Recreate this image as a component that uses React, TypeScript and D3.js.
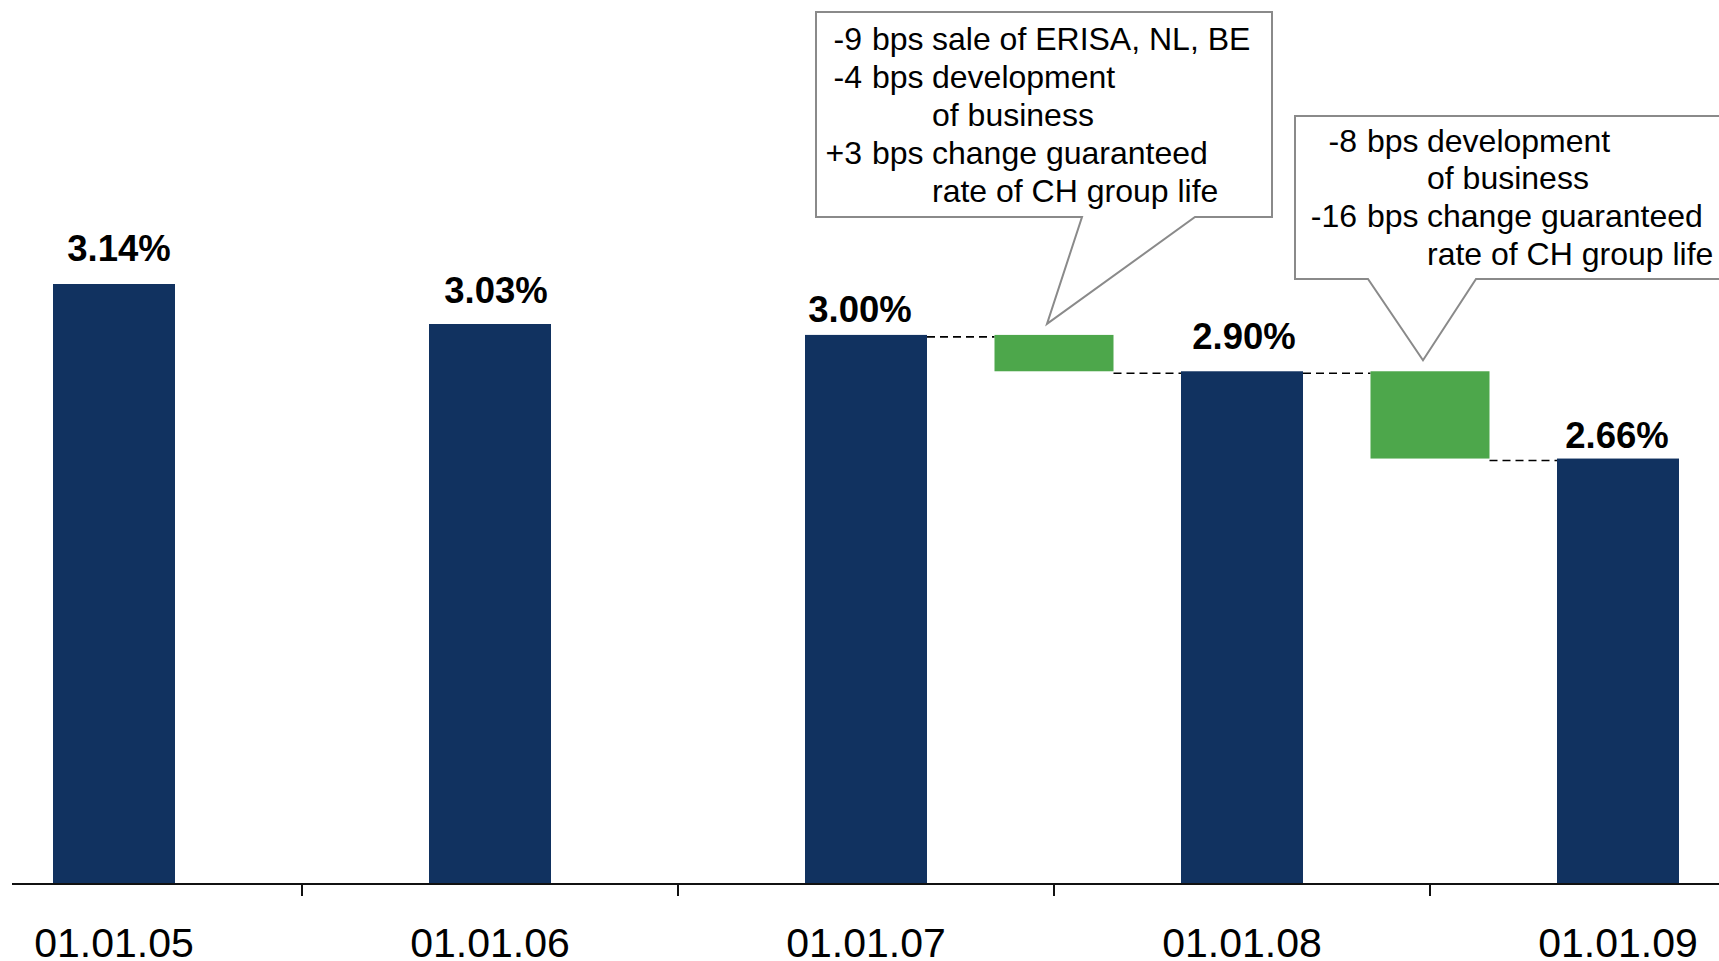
import React from 'react';
import * as d3 from 'd3';

// Average guaranteed rate at each reporting date (%)
const dates = ['01.01.05', '01.01.06', '01.01.07', '01.01.08', '01.01.09'];
const rates = [3.14, 3.03, 3.0, 2.9, 2.66];

// Bridges between consecutive dates: index of the starting date and the drivers (bps)
const bridgeStart = [2, 3];
const bridge1Amounts = ['-9', '-4', '', '+3', ''];
const bridge1Texts = [
  'sale of ERISA, NL, BE',
  'development',
  'of business',
  'change guaranteed',
  'rate of CH group life',
];
const bridge2Amounts = ['-8', '', '-16', ''];
const bridge2Texts = ['development', 'of business', 'change guaranteed', 'rate of CH group life'];

const W = 1719;
const H = 961;
const NAVY = '#113260';
const GREEN = '#4DA74B';
const FONT = '"Liberation Sans", Arial, sans-serif';

// vertical room between each value label and its bar, and small horizontal nudges
const labelLift = [23, 21, 13, 22, 11];
const labelDx = [5, 6, -6, 2, -1];

export default function App() {
  const x = d3.scaleLinear().domain([0, dates.length - 1]).range([114, 1618]);
  const y = d3.scaleLinear().domain([1.49, 3.14]).range([884, 284]);
  const barW = 122;
  const greenW = 119;
  const baseY = y(1.49);

  // bridge ends come from the rates themselves
  const bridges = bridgeStart.map((i) => ({
    cx: x(i + 0.5),
    from: rates[i],
    to: rates[i + 1],
  }));

  const callouts = [
    { box: [816, 12, 1272, 217], base: [1082, 1195], amounts: bridge1Amounts, texts: bridge1Texts, amtX: 862, firstBase: 50 },
    { box: [1295, 116, 1740, 279], base: [1368, 1476], amounts: bridge2Amounts, texts: bridge2Texts, amtX: 1357, firstBase: 151.5 },
  ];
  const lineGap = 37.9;

  const calloutPath = (c: any, apex: [number, number]) => {
    const [l, t, r, b] = c.box;
    const p = d3.path();
    p.moveTo(l, t);
    p.lineTo(r, t);
    p.lineTo(r, b);
    p.lineTo(c.base[1], b);
    p.lineTo(apex[0], apex[1]);
    p.lineTo(c.base[0], b);
    p.lineTo(l, b);
    p.closePath();
    return p.toString();
  };

  return (
    <svg
      width={W}
      height={H}
      viewBox={`0 0 ${W} ${H}`}
      style={{ position: 'absolute', left: 0, top: 0, display: 'block', background: '#fff' }}
    >
      <rect x={0} y={0} width={W} height={H} fill="#fff" />

      {/* dashed connectors between bars and bridge blocks */}
      {bridges.map((b, k) => {
        const i = bridgeStart[k];
        return (
          <g key={`c${k}`} stroke="#000" strokeWidth={1.6} strokeDasharray="8,5">
            <line x1={x(i) + barW / 2} x2={b.cx - greenW / 2} y1={y(b.from) + 2} y2={y(b.from) + 2} />
            <line x1={b.cx + greenW / 2} x2={x(i + 1) - barW / 2} y1={y(b.to) + 2} y2={y(b.to) + 2} />
          </g>
        );
      })}

      {/* rate bars */}
      {rates.map((v, i) => (
        <rect key={`b${i}`} x={x(i) - barW / 2} y={y(v)} width={barW} height={baseY - y(v)} fill={NAVY} />
      ))}

      {/* bridge blocks */}
      {bridges.map((b, k) => (
        <rect
          key={`g${k}`}
          x={b.cx - greenW / 2}
          y={y(b.from)}
          width={greenW}
          height={y(b.to) - y(b.from)}
          fill={GREEN}
        />
      ))}

      {/* value labels */}
      {rates.map((v, i) => (
        <text
          key={`l${i}`}
          x={x(i) + labelDx[i]}
          y={y(v) - labelLift[i]}
          textAnchor="middle"
          fontFamily={FONT}
          fontWeight="bold"
          fontSize={36.5}
          fill="#000"
        >
          {v.toFixed(2)}%
        </text>
      ))}

      {/* x axis */}
      <line x1={12} x2={W} y1={baseY} y2={baseY} stroke="#111" strokeWidth={2} />
      {d3.range(dates.length - 1).map((i) => (
        <line key={`t${i}`} x1={x(i + 0.5)} x2={x(i + 0.5)} y1={baseY} y2={baseY + 12} stroke="#111" strokeWidth={2} />
      ))}
      {dates.map((d, i) => (
        <text key={`x${i}`} x={x(i)} y={957} textAnchor="middle" fontFamily={FONT} fontSize={41} fill="#000">
          {d}
        </text>
      ))}

      {/* callouts explaining each bridge */}
      {callouts.map((c, k) => {
        const b = bridges[k];
        const apex: [number, number] = [b.cx - 7, y(b.from) - 11];
        return (
          <g key={`o${k}`}>
            <path d={calloutPath(c, apex)} fill="#fff" stroke="#8a8a8a" strokeWidth={2} />
            {c.texts.map((t: string, j: number) => {
              const by = c.firstBase + j * lineGap;
              const amt = c.amounts[j];
              return (
                <g key={j} fontFamily={FONT} fontSize={32} fill="#000">
                  {amt && (
                    <text x={c.amtX} y={by} textAnchor="end">
                      {amt}
                    </text>
                  )}
                  {amt && (
                    <text x={c.amtX + 10} y={by}>
                      bps
                    </text>
                  )}
                  <text x={c.amtX + 70} y={by}>
                    {t}
                  </text>
                </g>
              );
            })}
          </g>
        );
      })}
    </svg>
  );
}
